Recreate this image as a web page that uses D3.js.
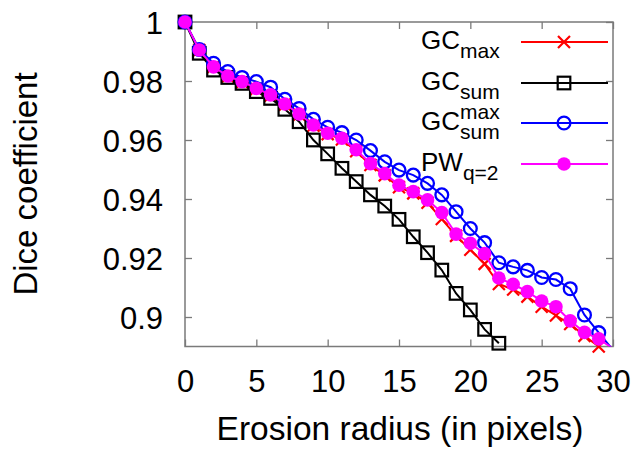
<!DOCTYPE html>
<html>
<head>
<meta charset="utf-8">
<script src="https://cdn.jsdelivr.net/npm/d3@7"></script>
<style>
  html, body { margin: 0; padding: 0; background: #fff; }
  svg { display: block; font-family: "Liberation Sans", Arial, Helvetica, sans-serif; }
</style>
</head>
<body>
<svg id="chart" width="639" height="455"></svg>
<script>
// Erosion radius (pixels)
const radius = d3.range(0, 31);

// Dice coefficient per method
const gcMax = [1.0, 0.9905, 0.9848, 0.9815, 0.9796, 0.9773, 0.9751, 0.972, 0.9686, 0.9648,
  0.962, 0.9602, 0.9562, 0.9515, 0.948, 0.944, 0.9419, 0.9387, 0.9332, 0.9275,
  0.9228, 0.918, 0.9112, 0.9093, 0.9069, 0.9035, 0.9005, 0.8976, 0.8936, 0.8900];
const gcSum = [1.0, 0.9894, 0.9837, 0.9812, 0.9792, 0.9764, 0.9741, 0.9704, 0.9662, 0.960,
  0.9553, 0.9504, 0.9459, 0.9414, 0.9376, 0.9331, 0.9272, 0.9218, 0.9159, 0.908,
  0.9024, 0.8958, 0.8911];
const gcSumMax = [1.0, 0.9907, 0.986, 0.9832, 0.9812, 0.9798, 0.9779, 0.9738, 0.9707, 0.967,
  0.9643, 0.9625, 0.960, 0.9564, 0.9526, 0.9498, 0.9481, 0.9453, 0.9414, 0.9357,
  0.930, 0.9252, 0.9184, 0.917, 0.9158, 0.9134, 0.9127, 0.9096, 0.9007, 0.8947, 0.8888];
const pwQ2 = [1.0, 0.9905, 0.9848, 0.9817, 0.9798, 0.9775, 0.9753, 0.9722, 0.9688, 0.9651,
  0.9623, 0.9606, 0.9567, 0.952, 0.9486, 0.9447, 0.9425, 0.9397, 0.9354, 0.9281,
  0.925, 0.9215, 0.9132, 0.9111, 0.9086, 0.9054, 0.9035, 0.8987, 0.8948, 0.8926, 0.8893];

const xTicks = [0, 5, 10, 15, 20, 25, 30];
const yTicks = [0.9, 0.92, 0.94, 0.96, 0.98, 1];

const series = [
  { name: "GC", sub: "max", sup: null, values: gcMax, color: "#ff0000", marker: "cross" },
  { name: "GC", sub: "sum", sup: null, values: gcSum, color: "#000000", marker: "square" },
  { name: "GC", sub: "sum", sup: "max", values: gcSumMax, color: "#0000ff", marker: "circle" },
  { name: "PW", sub: "q=2", sup: null, values: pwQ2, color: "#ff00ff", marker: "dot" }
];

const svg = d3.select("#chart");
const plotL = 185, plotR = 613, plotT = 22, plotB = 346.5;

const x = d3.scaleLinear().domain([0, 30]).range([plotL, plotR]);
const y = d3.scaleLinear().domain([0.89, 1]).range([plotB, plotT]);

const borderColor = "#7a7a7a";

svg.append("defs").append("clipPath").attr("id", "plotClip")
  .append("rect").attr("x", plotL).attr("y", plotT)
  .attr("width", plotR - plotL).attr("height", plotB - plotT);

// Axes with inward ticks, mirrored on top and right
function styleAxis(g) {
  g.select(".domain").remove();
  g.selectAll(".tick line").attr("stroke", borderColor).attr("stroke-width", 1.3);
  g.selectAll(".tick text").attr("fill", "#000").style("font-size", "31px");
}

svg.append("g").attr("transform", `translate(0,${plotB})`)
  .call(d3.axisBottom(x).tickValues(xTicks).tickSize(-7).tickPadding(23).tickFormat(d3.format("d")))
  .call(styleAxis);
svg.append("g").attr("transform", `translate(0,${plotT})`)
  .call(d3.axisTop(x).tickValues(xTicks).tickSize(-7).tickFormat(""))
  .call(styleAxis);
svg.append("g").attr("transform", `translate(${plotL},0)`)
  .call(d3.axisLeft(y).tickValues(yTicks).tickSize(-7).tickPadding(22).tickFormat(d => String(+d.toFixed(2))))
  .call(styleAxis)
  .selectAll(".tick text").attr("dy", "0.37em");
svg.append("g").attr("transform", `translate(${plotR},0)`)
  .call(d3.axisRight(y).tickValues(yTicks).tickSize(-7).tickFormat(""))
  .call(styleAxis);

svg.append("rect").attr("x", plotL).attr("y", plotT)
  .attr("width", plotR - plotL).attr("height", plotB - plotT)
  .attr("fill", "none").attr("stroke", borderColor).attr("stroke-width", 1.5);

// Axis titles
svg.append("text").attr("x", 400).attr("y", 440).attr("text-anchor", "middle")
  .style("font-size", "33.5px").text("Erosion radius (in pixels)");
svg.append("text").attr("transform", "translate(37,184) rotate(-90)")
  .attr("text-anchor", "middle").style("font-size", "33px").text("Dice coefficient");

// Marker drawing
function drawMarker(g, type, color, cx, cy) {
  if (type === "cross") {
    const s = 6;
    g.append("path").attr("d", `M${cx - s},${cy - s}L${cx + s},${cy + s}M${cx - s},${cy + s}L${cx + s},${cy - s}`)
      .attr("stroke", color).attr("stroke-width", 2.2).attr("fill", "none");
  } else if (type === "square") {
    const s = 6.3;
    g.append("rect").attr("x", cx - s).attr("y", cy - s).attr("width", 2 * s).attr("height", 2 * s)
      .attr("fill", "none").attr("stroke", color).attr("stroke-width", 2.2);
  } else if (type === "circle") {
    g.append("circle").attr("cx", cx).attr("cy", cy).attr("r", 6.4)
      .attr("fill", "none").attr("stroke", color).attr("stroke-width", 2.3);
  } else {
    g.append("circle").attr("cx", cx).attr("cy", cy).attr("r", 6.8).attr("fill", color);
  }
}

const line = d3.line().x((d, i) => x(radius[i])).y(d => y(d));

series.forEach(s => {
  const g = svg.append("g");
  g.append("path").datum(s.values).attr("d", line)
    .attr("clip-path", "url(#plotClip)")
    .attr("fill", "none").attr("stroke", s.color).attr("stroke-width", 2);
  s.values.forEach((v, i) => {
    if (v >= 0.8895) drawMarker(g, s.marker, s.color, x(radius[i]), y(v));
  });
});

// Legend
const rowY = [42, 83, 123, 164];
series.forEach((s, k) => {
  const cy = rowY[k];
  const g = svg.append("g");
  g.append("line").attr("x1", 521).attr("x2", 608).attr("y1", cy).attr("y2", cy)
    .attr("stroke", s.color).attr("stroke-width", 2);
  drawMarker(g, s.marker, s.color, 564, cy);
  const t = g.append("text").attr("x", 421).attr("y", cy + 7).style("font-size", "26px");
  t.append("tspan").text(s.name);
  if (s.sup) {
    const base = t.append("tspan").attr("dy", -11).style("font-size", "21px").text(s.sup);
    // subscript stacked directly below the superscript
    const w = base.node().getComputedTextLength();
    t.append("tspan").attr("dx", -w).attr("dy", 20).style("font-size", "21px").text(s.sub);
  } else {
    t.append("tspan").attr("dy", 9).style("font-size", "21px").text(s.sub);
  }
});
</script>
</body>
</html>
